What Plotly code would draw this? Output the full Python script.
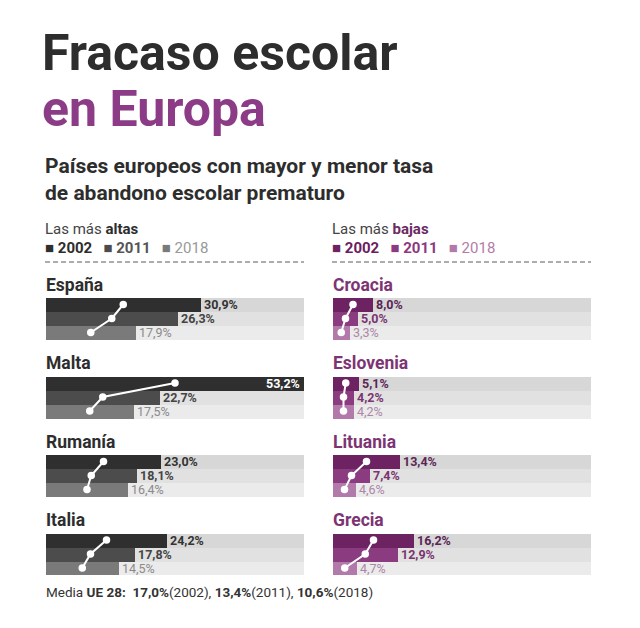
import plotly.graph_objects as go

# ---------------- data ----------------
years = ["2002", "2011", "2018"]
high_countries = ["España", "Malta", "Rumanía", "Italia"]
high_2002 = [30.9, 53.2, 23.0, 24.2]
high_2011 = [26.3, 22.7, 18.1, 17.8]
high_2018 = [17.9, 17.5, 16.4, 14.5]

low_countries = ["Croacia", "Eslovenia", "Lituania", "Grecia"]
low_2002 = [8.0, 5.1, 13.4, 16.2]
low_2011 = [5.0, 4.2, 7.4, 12.9]
low_2018 = [3.3, 4.2, 4.6, 4.7]

eu_avg = [17.0, 13.4, 10.6]

# ---------------- styling ----------------
W, H = 640, 628
XMAX = 51.6
ROW_PX = 14.0
BLOCK_PX = 78.5
BLOCK = BLOCK_PX / ROW_PX
TOP_PX = 297.5
BOT_PX = TOP_PX + (3 * BLOCK + 3) * ROW_PX

FONT = "Roboto, 'Open Sans', sans-serif"

grey_bars = ["#2f2f2f", "#4c4c4c", "#7a7a7a"]
purple_bars = ["#6d2361", "#8b3c81", "#b17aaa"]
tracks = ["#d7d7d7", "#e1e1e1", "#ebebeb"]
grey_txt = ["#333333", "#444444", "#8a8a8a"]
purple_txt = ["#5a2554", "#7a3470", "#ab86a6"]
purple_title = "#8c3c86"
purple_country = "#7d3473"


def fmt(v):
    return f"{v:.1f}".replace(".", ",") + "%"


def py(px):
    return 1 - px / H


fig = go.Figure()
annotations = []

panels = [
    (high_countries, [high_2002, high_2011, high_2018], grey_bars, grey_txt, "#2d2d2d", "x", "y", 44),
    (low_countries, [low_2002, low_2011, low_2018], purple_bars, purple_txt, purple_country, "x2", "y2", 331),
]

for countries, series, bcol, tcol, ccol, xa, ya, x0px in panels:
    n = len(countries)
    for j in range(3):
        ys = [i * BLOCK + j + 0.5 for i in range(n)]
        fig.add_trace(go.Bar(x=[XMAX] * n, y=ys, orientation="h", width=1,
                             marker=dict(color=tracks[j], line=dict(width=0)),
                             xaxis=xa, yaxis=ya, hoverinfo="skip", showlegend=False))
    for j in range(3):
        ys = [i * BLOCK + j + 0.5 for i in range(n)]
        fig.add_trace(go.Bar(x=series[j], y=ys, orientation="h", width=1,
                             marker=dict(color=bcol[j], line=dict(width=0)),
                             xaxis=xa, yaxis=ya, name=years[j], showlegend=False))
        for i, v in enumerate(series[j]):
            txt = f"<b>{fmt(v)}</b>" if j < 2 else fmt(v)
            if v > XMAX:
                annotations.append(dict(x=XMAX, y=ys[i], xref=xa, yref=ya, text=txt,
                                        xanchor="right", xshift=-2, showarrow=False,
                                        font=dict(family=FONT, size=12.5, color="white")))
            else:
                annotations.append(dict(x=v, y=ys[i], xref=xa, yref=ya, text=txt,
                                        xanchor="left", xshift=1, showarrow=False,
                                        font=dict(family=FONT, size=12.5, color=tcol[j])))
    # connecting lines with dots at bar midpoints
    for i in range(n):
        xs = [min(series[j][i], XMAX) / 2 for j in range(3)]
        ys = [i * BLOCK + j + 0.5 for j in range(3)]
        fig.add_trace(go.Scatter(x=xs, y=ys, mode="lines+markers", xaxis=xa, yaxis=ya,
                                 line=dict(color="white", width=2),
                                 marker=dict(color="white", size=7.5),
                                 hoverinfo="skip", showlegend=False, cliponaxis=False))
        label_px = TOP_PX + i * BLOCK_PX - 13
        annotations.append(dict(x=x0px / W, y=py(label_px), xref="paper", yref="paper",
                                text=f"<b>{countries[i]}</b>", xanchor="left", yanchor="middle",
                                showarrow=False, font=dict(family=FONT, size=17.5, color=ccol)))

# titles
annotations += [
    dict(x=40 / W, y=py(53), xref="paper", yref="paper", text="<b>Fracaso escolar</b>",
         xanchor="left", yanchor="middle", showarrow=False,
         font=dict(family=FONT, size=50, color="#2d2d2d")),
    dict(x=40 / W, y=py(109), xref="paper", yref="paper", text="<b>en Europa</b>",
         xanchor="left", yanchor="middle", showarrow=False,
         font=dict(family=FONT, size=50, color=purple_title)),
    dict(x=43 / W, y=py(180), xref="paper", yref="paper",
         text="<b>Países europeos con mayor y menor tasa<br>de abandono escolar prematuro</b>",
         xanchor="left", yanchor="middle", align="left", showarrow=False,
         font=dict(family=FONT, size=21, color="#2d2d2d")),
    dict(x=43 / W, y=py(229), xref="paper", yref="paper",
         text="<span style='color:#444444'>Las más</span> <b>altas</b>",
         xanchor="left", yanchor="middle", showarrow=False,
         font=dict(family=FONT, size=15, color="#2d2d2d")),
    dict(x=330 / W, y=py(229), xref="paper", yref="paper",
         text="<span style='color:#444444'>Las más</span> <b>bajas</b>",
         xanchor="left", yanchor="middle", showarrow=False,
         font=dict(family=FONT, size=15, color="#6b2a63")),
]


def legend_text(cols, tcols):
    parts = []
    for j, y in enumerate(years):
        lab = f"<b>{y}</b>" if j < 2 else y
        parts.append(f"<span style='color:{cols[j]}'>■</span> <span style='color:{tcols[j]}'>{lab}</span>")
    return "   ".join(parts)


annotations += [
    dict(x=43 / W, y=py(248), xref="paper", yref="paper",
         text=legend_text(grey_bars, ["#2d2d2d", "#555555", "#999999"]),
         xanchor="left", yanchor="middle", showarrow=False,
         font=dict(family=FONT, size=15)),
    dict(x=330 / W, y=py(248), xref="paper", yref="paper",
         text=legend_text(purple_bars, ["#6b1d60", "#8b3a80", "#b47ca9"]),
         xanchor="left", yanchor="middle", showarrow=False,
         font=dict(family=FONT, size=15)),
]

foot = "Media <b>UE 28:</b>  " + ", ".join(f"<b>{fmt(v)}</b>({y})" for v, y in zip(eu_avg, years))
annotations.append(dict(x=44 / W, y=py(592), xref="paper", yref="paper", text=foot,
                        xanchor="left", yanchor="middle", showarrow=False,
                        font=dict(family=FONT, size=13.5, color="#333333")))

dash_line = dict(color="#5a5a5a", width=1, dash="5px,3px")
shapes = [
    dict(type="line", xref="paper", yref="paper", x0=45 / W, x1=304 / W, y0=py(262), y1=py(262),
         line=dash_line),
    dict(type="line", xref="paper", yref="paper", x0=332 / W, x1=591 / W, y0=py(262), y1=py(262),
         line=dash_line),
]

yrange = [3 * BLOCK + 3, 0]
ydom = [py(BOT_PX), py(TOP_PX)]
axis_off = dict(showgrid=False, zeroline=False, showticklabels=False, showline=False, ticks="")

fig.update_layout(
    width=W, height=H, margin=dict(l=0, r=0, t=0, b=0),
    paper_bgcolor="white", plot_bgcolor="rgba(0,0,0,0)",
    barmode="overlay", bargap=0, showlegend=False,
    xaxis=dict(domain=[46 / W, 304 / W], range=[0, XMAX], fixedrange=True, **axis_off),
    xaxis2=dict(domain=[333 / W, 591 / W], range=[0, XMAX], anchor="y2", fixedrange=True, **axis_off),
    yaxis=dict(domain=ydom, range=yrange, fixedrange=True, **axis_off),
    yaxis2=dict(domain=ydom, range=yrange, anchor="x2", fixedrange=True, **axis_off),
    annotations=annotations, shapes=shapes,
)

fig.write_html("out.html", config={"displayModeBar": False},
               post_script="document.body.style.margin='0px';")
